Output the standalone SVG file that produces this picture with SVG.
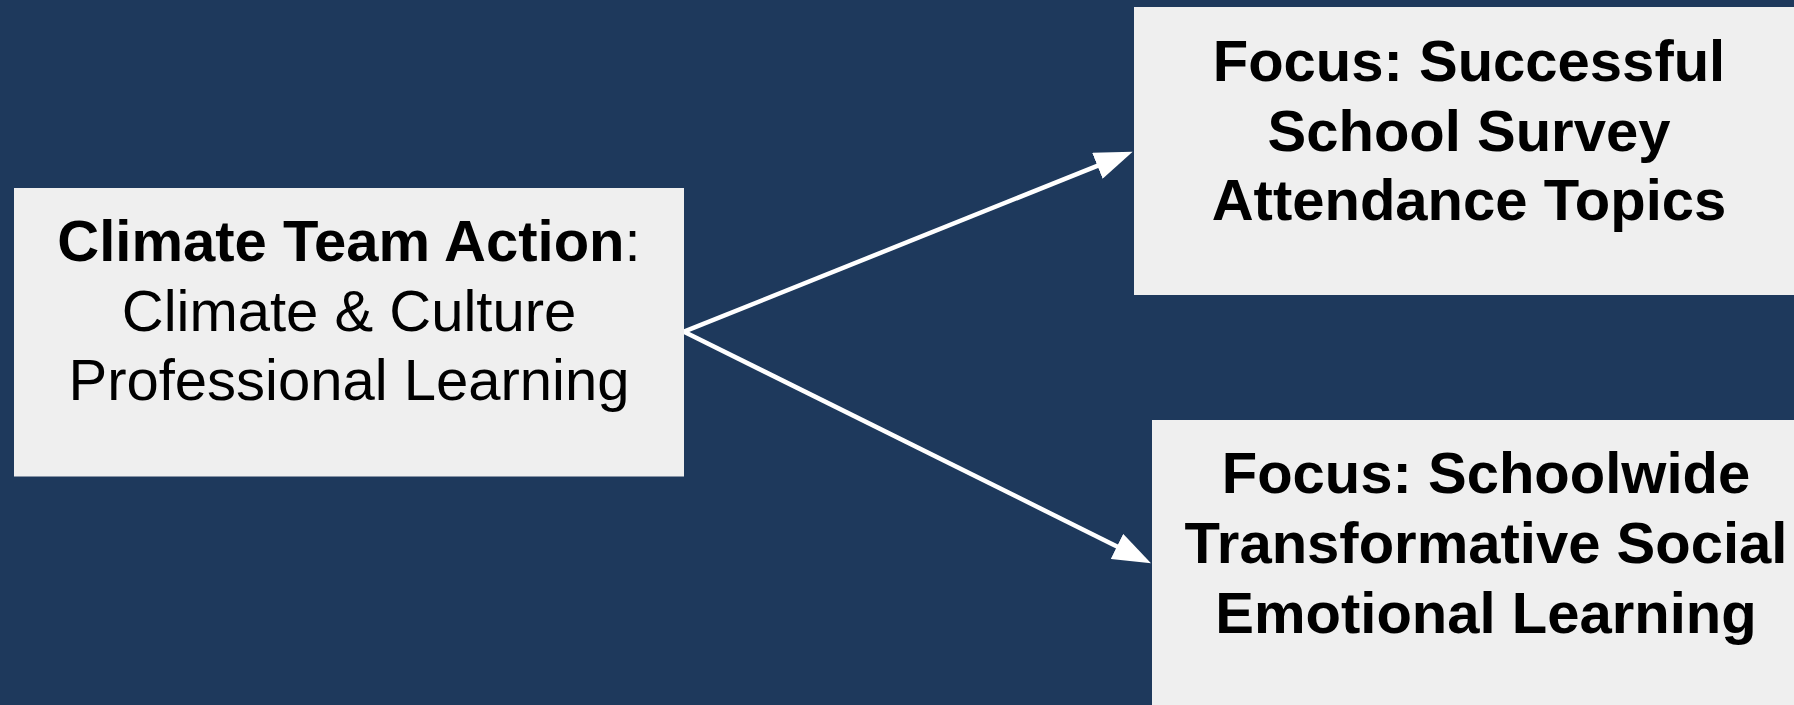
<svg xmlns="http://www.w3.org/2000/svg" width="1794" height="705" viewBox="0 0 1794 705">
<style>
.box{fill:#efefef;}
.t{font-family:"Liberation Sans",Arial,sans-serif;font-size:58px;fill:#000;text-anchor:middle;}
.b{font-weight:bold;}
.conn{stroke:#ffffff;stroke-width:4.5;fill:none;}
</style>
<defs>
<marker id="ah" markerUnits="userSpaceOnUse" markerWidth="38" markerHeight="28" refX="18" refY="14" orient="auto" viewBox="0 0 38 28">
<path d="M0,0 L38,14 L0,28 z" fill="#ffffff"/>
</marker>
</defs>
<rect width="1794" height="705" fill="#1e395c"/>
<g id="connectors">
<line class="conn" x1="684" y1="331.7" x2="1114.1" y2="159.1" marker-end="url(#ah)"/>
<line class="conn" x1="684" y1="331.7" x2="1133.1" y2="554.4" marker-end="url(#ah)"/>
</g>
<g id="node-action">
<rect class="box" x="14" y="188" width="670" height="288.5"/>
<text class="t" x="349" y="261"><tspan class="b">Climate Team Action</tspan>:</text>
<text class="t" x="349" y="330.5">Climate &amp; Culture</text>
<text class="t" x="349" y="400">Professional Learning</text>
</g>
<g id="node-survey">
<rect class="box" x="1134" y="7" width="670" height="288"/>
<text class="t b" x="1469" y="81">Focus: Successful</text>
<text class="t b" x="1469" y="151">School Survey</text>
<text class="t b" x="1469" y="220">Attendance Topics</text>
</g>
<g id="node-sel">
<rect class="box" x="1152" y="420" width="670" height="290"/>
<text class="t b" x="1486" y="493">Focus: Schoolwide</text>
<text class="t b" x="1486" y="563">Transformative Social</text>
<text class="t b" x="1486" y="633">Emotional Learning</text>
</g>
</svg>
